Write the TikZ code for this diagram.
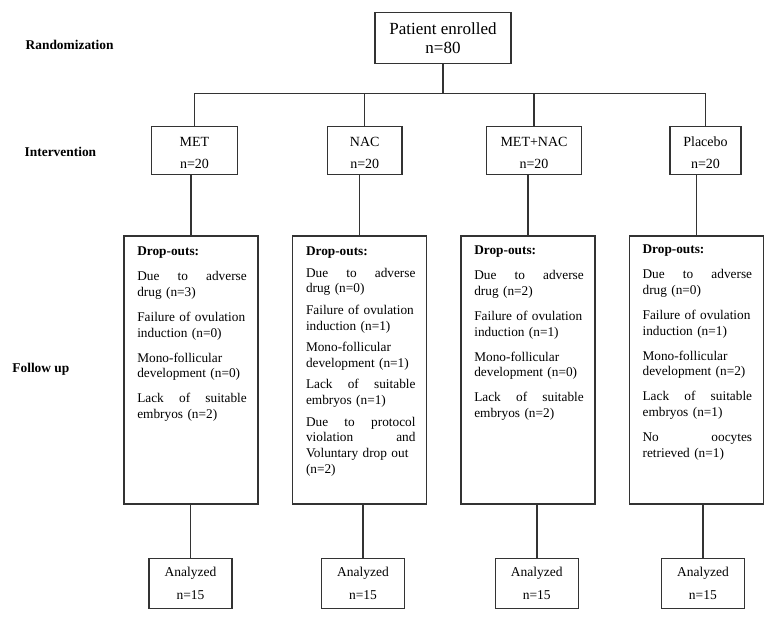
\documentclass[tikz,border=0pt]{standalone}
\usepackage{fontspec}
\setmainfont{Liberation Serif}
\usetikzlibrary{positioning}

\newlength{\dropgap}
\newcommand{\dropsep}{\par\vspace{\dropgap}}
\newcommand{\armlabel}[2]{\rule{0pt}{14pt}#1\\n=#2}

\begin{document}
\begin{tikzpicture}[
  x=1pt,y=-1pt,
  line width=1.4pt,draw=black!80,
  lbl/.style={anchor=west,inner sep=0pt,font=\bfseries\fontsize{13.4}{16}\selectfont},
  topbox/.style={draw,minimum width=136pt,minimum height=51pt,inner sep=0pt,
              align=center,font=\fontsize{17}{19}\selectfont},
  armbox/.style={draw,minimum height=48pt,inner sep=0pt,
              align=center,font=\fontsize{14}{22}\selectfont},
  dropbox/.style={draw,minimum width=134pt,minimum height=268pt,inner sep=0pt},
  droptext/.style={text width=109.5pt,inner sep=0pt,
              font=\fontsize{13.3}{15.7}\selectfont,
              execute at begin node={\setlength{\dropgap}{#1}\hyphenpenalty=10000\relax}},
  droptext/.default=9.3pt,
  outbox/.style={draw,minimum width=83pt,minimum height=50pt,inner sep=0pt,
              align=center,font=\fontsize{13.5}{23}\selectfont},
]
\useasboundingbox (0,0) rectangle (771,620);

% --- stage labels on the left
\node[lbl] (lrand) at (25,45)    {Randomization};
\node[lbl] (lint)  at (24,152)   {Intervention};
\node[lbl] (lfol)  at (11.7,369) {Follow up};

% --- enrolment
\node[topbox] (enrol) at (443,38.3) {Patient enrolled\\n=80};
\coordinate[below=29.3pt of enrol.south] (split);

% --- the four arms
\node[armbox,minimum width=86pt]   (imet) at (194.5,150.5) {\armlabel{MET}{20}};
\node[armbox,minimum width=74.5pt] (inac) at (364.7,150.5) {\armlabel{NAC}{20}};
\node[armbox,minimum width=95pt]   (ibth) at (534,150.5)   {\armlabel{MET+NAC}{20}};
\node[armbox,minimum width=71pt]   (iplc) at (705.5,150.5) {\armlabel{Placebo}{20}};

% --- drop-out frames, text is put in afterwards
\node[dropbox] (dmet) at (191,370)   {};
\node[dropbox] (dnac) at (359.7,370) {};
\node[dropbox] (dbth) at (528,370)   {};
\node[dropbox] (dplc) at (696.3,370) {};

\node[droptext,below right=11pt and 13.3pt of dmet.north west] (tmet)
  {\textbf{Drop-outs:}\dropsep
   Due\hfill to\hfill adverse\\drug (n=3)\dropsep
   Failure of ovulation\\induction (n=0)\dropsep
   Mono-follicular\\development (n=0)\dropsep
   Lack\hfill of\hfill suitable\\embryos (n=2)};
\node[droptext=5.8pt,below right=11pt and 13.3pt of dnac.north west] (tnac)
  {\textbf{Drop-outs:}\dropsep
   Due\hfill to\hfill adverse\\drug (n=0)\dropsep
   Failure of ovulation\\induction (n=1)\dropsep
   Mono-follicular\\development (n=1)\dropsep
   Lack\hfill of\hfill suitable\\embryos (n=1)\dropsep
   Due\hfill to\hfill protocol\\violation\hfill and\\Voluntary drop out\\(n=2)};
\node[droptext,below right=10pt and 13.3pt of dbth.north west] (tbth)
  {\textbf{Drop-outs:}\dropsep
   Due\hfill to\hfill adverse\\drug (n=2)\dropsep
   Failure of ovulation\\induction (n=1)\dropsep
   Mono-follicular\\development (n=0)\dropsep
   Lack\hfill of\hfill suitable\\embryos (n=2)};
\node[droptext,below right=9pt and 13.3pt of dplc.north west] (tplc)
  {\textbf{Drop-outs:}\dropsep
   Due\hfill to\hfill adverse\\drug (n=0)\dropsep
   Failure of ovulation\\induction (n=1)\dropsep
   Mono-follicular\\development (n=2)\dropsep
   Lack\hfill of\hfill suitable\\embryos (n=1)\dropsep
   No\hfill oocytes\\retrieved (n=1)};

% --- analysed
\node[outbox] (amet) at (190.5,583.5) {Analyzed\\n=15};
\node[outbox] (anac) at (363,583.5)   {Analyzed\\n=15};
\node[outbox] (abth) at (536.8,583.5) {Analyzed\\n=15};
\node[outbox] (aplc) at (702.9,583.5) {Analyzed\\n=15};

% --- connectors
\draw (enrol.south) -- (split);
\draw (imet.north) -- (imet.north |- split) -- (iplc.north |- split) -- (iplc.north);
\foreach \arm in {inac,ibth}
  \draw (\arm.north |- split) -- (\arm.north);
\foreach \arm/\drop in {imet/dmet,inac/dnac,ibth/dbth,iplc/dplc}
  \draw (\drop.north |- \arm.south) -- (\drop.north);
\foreach \drop/\out in {dmet/amet,dnac/anac,dbth/abth,dplc/aplc}
  \draw (\out.north |- \drop.south) -- (\out.north);

\end{tikzpicture}
\end{document}
